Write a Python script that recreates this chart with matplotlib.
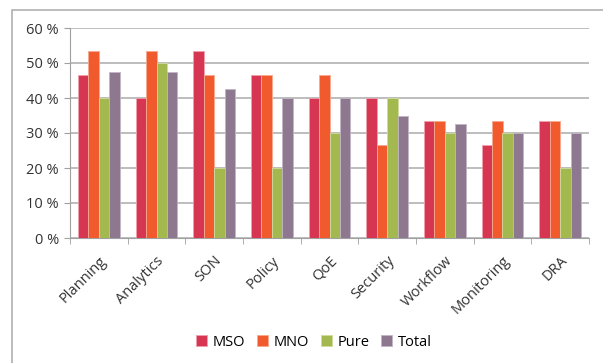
import matplotlib.pyplot as plt
import numpy as np
from matplotlib.patches import Rectangle
from matplotlib.ticker import FixedLocator

plt.rcParams['font.family'] = ['Open Sans', 'DejaVu Sans']

categories = ['Planning', 'Analytics', 'SON', 'Policy', 'QoE', 'Security',
              'Workflow', 'Monitoring', 'DRA']
series = ['MSO', 'MNO', 'Pure', 'Total']
mso = [46.7, 40.0, 53.3, 46.7, 40.0, 40.0, 33.3, 26.7, 33.3]
mno = [53.3, 53.3, 46.7, 46.7, 46.7, 26.7, 33.3, 33.3, 33.3]
pure = [40.0, 50.0, 20.0, 20.0, 30.0, 40.0, 30.0, 30.0, 20.0]
total = [47.5, 47.5, 42.5, 40.0, 40.0, 35.0, 32.5, 30.0, 30.0]
yticks = [0, 10, 20, 30, 40, 50, 60]

colors = ['#d63651', '#f05a2d', '#a3b84f', '#8d7890']
edges = ['#f0a0ac', '#f7a98f', '#cfdca0', '#c2b6c4']


def renderChart():
    fig = plt.figure(figsize=(6.03, 3.63), dpi=100)
    # outer frame around the chart area
    fig.patches.append(Rectangle((12 / 603, -0.05), 0.99, 1 - 10 / 363 + 0.05,
                                 transform=fig.transFigure, fill=False,
                                 edgecolor='#b0b0b0', lw=1.2))
    ax = fig.add_axes([70 / 603, 1 - 238 / 363, 519 / 603, 210 / 363])

    x = np.arange(len(categories))
    w = 0.18
    for i, vals in enumerate([mso, mno, pure, total]):
        ax.bar(x + (i - 1.5) * w, vals, w, color=colors[i], edgecolor=edges[i],
               linewidth=0.6, label=series[i], zorder=3)

    ax.set_xlim(-0.5, len(categories) - 0.5)
    ax.set_ylim(0, 60)
    ax.set_yticks(yticks)
    ax.set_yticklabels(['%d %%' % t for t in yticks], fontsize=10.5, color='#333333')
    ax.yaxis.grid(True, color='#bdbdbd', lw=1.4, zorder=0)

    ax.set_xticks(x)
    ax.set_xticklabels(categories, rotation=45, ha='right', rotation_mode='anchor',
                       fontsize=10.5, color='#333333')
    ax.tick_params(axis='x', which='major', length=0, pad=11)
    ax.xaxis.set_minor_locator(FixedLocator(np.arange(-0.5, len(categories), 1)))
    ax.tick_params(axis='x', which='minor', length=4, color='#a0a0a0')
    ax.tick_params(axis='y', length=4, color='#a0a0a0', pad=4)

    for s in ['top', 'right']:
        ax.spines[s].set_visible(False)
    ax.spines['left'].set_color('#a0a0a0')
    ax.spines['bottom'].set_color('#a0a0a0')

    fig.legend(loc='center', bbox_to_anchor=(314 / 603, 1 - 342 / 363), ncol=4,
               frameon=False, fontsize=10.5, handlelength=0.75, handleheight=0.75,
               handletextpad=0.4, columnspacing=0.8)

    fig.savefig('out.png', dpi=100)


def main():
    renderChart()


if __name__ == "__main__":
    main()
